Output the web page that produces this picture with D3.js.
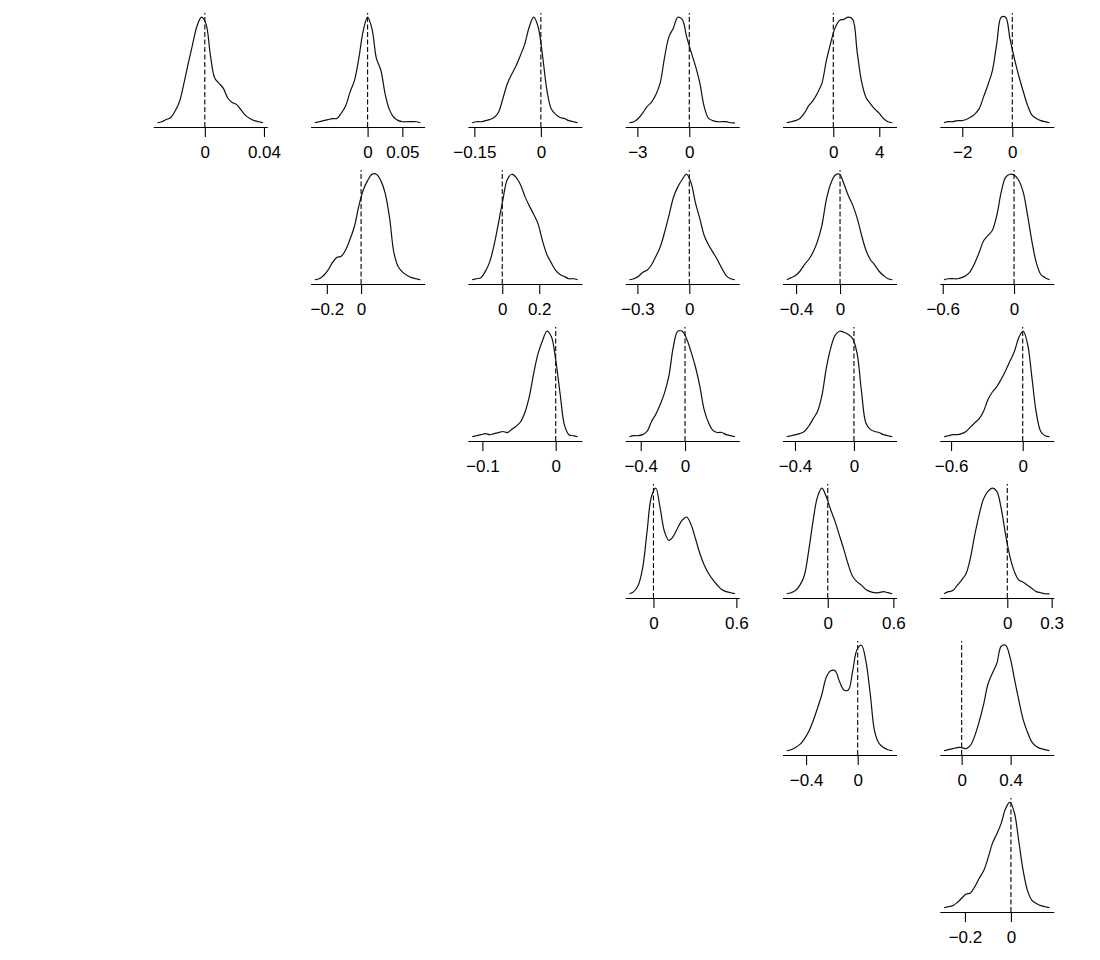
<!DOCTYPE html>
<html>
<head>
<meta charset="utf-8">
<script src="https://cdn.jsdelivr.net/npm/d3@7"></script>
<style>
  html, body { margin: 0; padding: 0; background: #fff; }
  svg { display: block; }
  .tick text { font-family: "Liberation Sans", Arial, Helvetica, sans-serif; }
</style>
</head>
<body>
<svg id="chart" width="1100" height="960"></svg>
<script>
// ---- data (panel order: row by row, upper triangle) ----
const panelRow = [0,0,0,0,0,0, 1,1,1,1,1, 2,2,2,2, 3,3,3, 4,4, 5];
const panelCol = [0,1,2,3,4,5, 1,2,3,4,5, 2,3,4,5, 3,4,5, 4,5, 5];

const curveLo = [-0.032, -0.076, -0.155, -3.46, -4.05, -2.73,
                 -0.27, -0.163, -0.346, -0.485, -0.589,
                 -0.114, -0.502, -0.456, -0.659,
                 -0.174, -0.375, -0.428,
                 -0.55, -0.144,
                 -0.291];
const curveHi = [0.0394, 0.076, 0.083, 2.64, 5.13, 1.49,
                 0.346, 0.408, 0.264, 0.475, 0.299,
                 0.030, 0.451, 0.26, 0.225,
                 0.59, 0.59, 0.286,
                 0.268, 0.718,
                 0.168];

const tickValues = [[0,0.04],[0,0.05],[-0.15,0],[-3,0],[0,4],[-2,0],
                    [-0.2,0],[0,0.2],[-0.3,0],[-0.4,0],[-0.6,0],
                    [-0.1,0],[-0.4,0],[-0.4,0],[-0.6,0],
                    [0,0.6],[0,0.6],[0,0.3],
                    [-0.4,0],[0,0.4],
                    [-0.2,0]];

// density estimates read at 25 evenly spaced points across each curve range
const densities = [
  [0,0.01,0.03,0.05,0.11,0.2,0.37,0.56,0.74,0.91,0.99,0.93,0.64,0.42,0.37,0.32,0.23,0.19,0.17,0.12,0.07,0.04,0.02,0.01,0],
  [0,0.01,0.02,0.03,0.04,0.04,0.09,0.16,0.29,0.4,0.61,0.87,1.0,0.89,0.61,0.5,0.27,0.12,0.05,0.02,0.01,0.01,0.01,0.01,0],
  [0,0.01,0.01,0.02,0.03,0.05,0.1,0.23,0.37,0.46,0.54,0.64,0.75,0.91,1.0,0.91,0.64,0.31,0.13,0.08,0.05,0.04,0.02,0.01,0],
  [0,0.01,0.04,0.09,0.15,0.19,0.26,0.37,0.61,0.8,0.88,0.98,0.96,0.8,0.66,0.53,0.37,0.15,0.04,0.02,0.01,0.01,0.01,0,0],
  [0,0.01,0.02,0.04,0.09,0.16,0.21,0.28,0.37,0.58,0.75,0.89,0.96,0.97,0.99,0.97,0.67,0.39,0.24,0.18,0.13,0.09,0.04,0.01,0],
  [0,0.01,0.01,0.02,0.02,0.03,0.05,0.08,0.13,0.24,0.35,0.48,0.73,0.97,0.97,0.77,0.59,0.43,0.29,0.16,0.07,0.04,0.02,0.01,0],
  [0,0.01,0.04,0.09,0.16,0.21,0.22,0.28,0.38,0.5,0.69,0.84,0.93,0.99,0.99,0.93,0.81,0.58,0.25,0.12,0.07,0.04,0.02,0.01,0],
  [0,0.01,0.02,0.08,0.17,0.33,0.54,0.76,0.95,1.0,0.97,0.9,0.79,0.7,0.62,0.53,0.37,0.24,0.16,0.09,0.05,0.03,0.01,0.01,0],
  [0,0.01,0.03,0.07,0.09,0.14,0.22,0.31,0.45,0.61,0.78,0.88,0.95,1.0,0.92,0.73,0.58,0.42,0.33,0.26,0.19,0.11,0.04,0.01,0],
  [0,0.02,0.04,0.08,0.14,0.19,0.26,0.36,0.51,0.75,0.9,0.98,0.99,0.9,0.79,0.7,0.58,0.42,0.28,0.19,0.14,0.08,0.04,0.01,0],
  [0,0.01,0.01,0.01,0.02,0.04,0.08,0.16,0.26,0.37,0.42,0.47,0.61,0.83,0.97,1.0,0.99,0.94,0.83,0.61,0.36,0.16,0.05,0.02,0],
  [0,0.01,0.02,0.03,0.02,0.03,0.04,0.05,0.04,0.07,0.1,0.14,0.23,0.38,0.6,0.79,0.91,1.0,0.95,0.73,0.41,0.11,0.02,0.01,0],
  [0,0.01,0.01,0.02,0.05,0.14,0.21,0.3,0.41,0.57,0.84,0.98,0.98,0.91,0.79,0.65,0.47,0.25,0.13,0.06,0.04,0.04,0.02,0.01,0],
  [0,0.01,0.02,0.03,0.05,0.1,0.17,0.24,0.39,0.65,0.84,0.96,1.0,0.99,0.97,0.93,0.79,0.43,0.13,0.07,0.05,0.04,0.02,0.01,0],
  [0,0.01,0.02,0.02,0.03,0.05,0.09,0.13,0.17,0.24,0.35,0.42,0.47,0.54,0.62,0.71,0.8,0.93,0.99,0.87,0.55,0.22,0.05,0.01,0],
  [0,0.02,0.08,0.24,0.58,0.91,0.99,0.8,0.58,0.5,0.54,0.62,0.69,0.72,0.65,0.52,0.38,0.27,0.19,0.13,0.08,0.04,0.02,0.01,0],
  [0,0.01,0.03,0.08,0.17,0.4,0.68,0.9,0.98,0.9,0.78,0.67,0.54,0.41,0.27,0.16,0.11,0.08,0.04,0.02,0.01,0.01,0.02,0.01,0],
  [0,0.02,0.03,0.08,0.13,0.19,0.34,0.56,0.75,0.9,0.97,1.0,0.97,0.81,0.56,0.35,0.21,0.13,0.11,0.08,0.05,0.02,0.01,0,0],
  [0,0.01,0.03,0.06,0.11,0.18,0.28,0.4,0.53,0.69,0.75,0.75,0.65,0.57,0.57,0.75,0.95,0.99,0.84,0.53,0.18,0.07,0.03,0.01,0],
  [0,0.01,0.02,0.03,0.03,0.02,0.05,0.14,0.27,0.43,0.62,0.72,0.81,0.97,0.98,0.87,0.67,0.47,0.29,0.17,0.08,0.04,0.02,0.01,0],
  [0,0.01,0.02,0.05,0.09,0.13,0.14,0.2,0.28,0.35,0.47,0.61,0.7,0.8,0.94,1.0,0.9,0.63,0.35,0.16,0.07,0.04,0.02,0.01,0]
];

// ---- layout ----
const colLeft0 = 153.3, colStep = 157.3;
const rowBottom0 = 127, rowStep = 157;
const plotW = 114, plotH = 114;

const svg = d3.select("#chart");
const fmt = v => String(v).replace("-", "\u2212");

densities.forEach((dens, i) => {
  const left = colLeft0 + colStep * panelCol[i];
  const bottom = rowBottom0 + rowStep * panelRow[i];
  const lo = curveLo[i], hi = curveHi[i];
  const ext = 0.04 * (hi - lo);
  const x = d3.scaleLinear().domain([lo - ext, hi + ext]).range([left, left + plotW]);
  const ymax = d3.max(dens);
  const y = d3.scaleLinear().domain([-0.04 * ymax, 1.04 * ymax]).range([bottom, bottom - plotH]);
  const n = dens.length;
  const pts = dens.map((d, k) => [lo + k * (hi - lo) / (n - 1), d]);

  const g = svg.append("g");

  // axis (full-width line + ticks + labels)
  const axis = d3.axisBottom(x)
    .tickValues(tickValues[i])
    .tickFormat(fmt)
    .tickSizeInner(10)
    .tickSizeOuter(0)
    .tickPadding(9);
  const ag = g.append("g")
    .attr("transform", `translate(0,${bottom})`)
    .call(axis);
  ag.selectAll("path.domain").attr("stroke", "#000").attr("stroke-width", 1.1);
  ag.selectAll(".tick line").attr("stroke", "#000").attr("stroke-width", 1.1);
  ag.selectAll(".tick text")
    .attr("fill", "#000")
    .style("font-size", "17px")
    .style("font-family", "'Liberation Sans', Arial, Helvetica, sans-serif");

  // dashed reference line at zero
  g.append("line")
    .attr("x1", x(0)).attr("x2", x(0))
    .attr("y1", bottom).attr("y2", bottom - plotH)
    .attr("stroke", "#000")
    .attr("stroke-width", 1.1)
    .attr("stroke-dasharray", "5,2.5");

  // density curve
  const line = d3.line()
    .x(p => x(p[0]))
    .y(p => y(p[1]))
    .curve(d3.curveCatmullRom.alpha(0.5));
  g.append("path")
    .datum(pts)
    .attr("d", line)
    .attr("fill", "none")
    .attr("stroke", "#111")
    .attr("stroke-width", 1.2);
});
</script>
</body>
</html>
